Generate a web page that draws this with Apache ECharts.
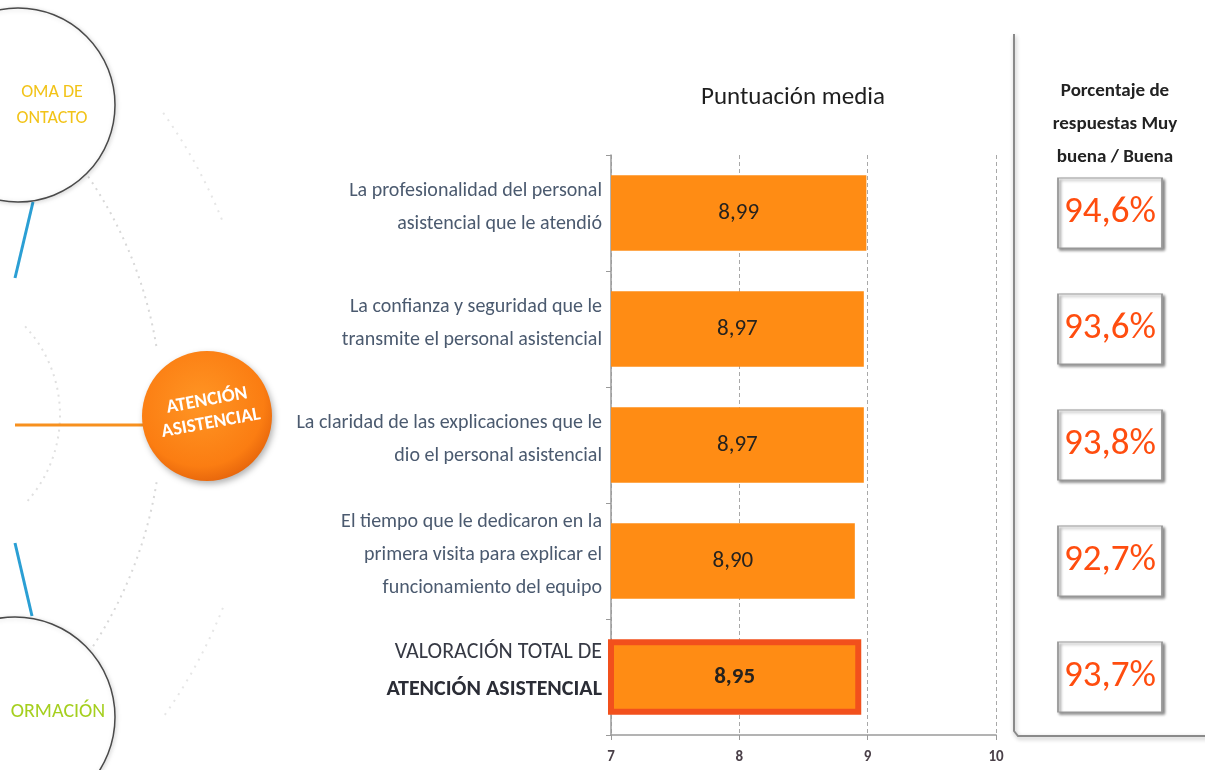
<!DOCTYPE html>
<html>
<head>
<meta charset="utf-8">
<script src="https://cdn.jsdelivr.net/npm/echarts@6/dist/echarts.min.js"></script>
<style>
  html, body { margin: 0; padding: 0; background: #fff; }
  #chart { width: 1205px; height: 770px; }
</style>
</head>
<body>
<div id="chart"></div>
<script>
var FONT = 'Carlito, Lato, "DejaVu Sans Condensed", sans-serif';

var categories = [
   'La profesionalidad del personal\nasistencial que le atendió',
   'La confianza y seguridad que le\ntransmite el personal asistencial',
   'La claridad de las explicaciones que le\ndio el personal asistencial',
   'El tiempo que le dedicaron en la\nprimera visita para explicar el\nfuncionamiento del equipo',
   'VALORACIÓN TOTAL DE\nATENCIÓN ASISTENCIAL'
];
var scores = [8.99, 8.97, 8.97, 8.90, 8.95];
var percents = [94.6, 93.6, 93.8, 92.7, 93.7];
var xTicks = [7, 8, 9, 10];

var fmtComma = function(v, d) {
   return v.toFixed(d).replace('.', ',');
};

var lastIdx = categories.length - 1;

var barData = scores.map(function(v, i) {
   if(i == lastIdx) {
      return {
         value: v,
         itemStyle: { borderColor: '#f2501c', borderWidth: 6 },
         label: { fontWeight: 'bold' }
      };
   }
   return v;
});

var boxData = percents.map(function(p, i) {
   return [0, categories[i], p];
});

var chart = echarts.init(document.getElementById('chart'));

var option = {
   animation: false,
   title: [{
      text: 'Puntuación media',
      left: 788,
      top: 80,
      textAlign: 'center',
      textStyle: { fontFamily: FONT, fontSize: 25, fontWeight: 'normal', color: '#1e1e1e' }
   }, {
      text: 'Porcentaje de\nrespuestas Muy\nbuena / Buena',
      left: 1110,
      top: 70,
      textAlign: 'center',
      textStyle: { fontFamily: FONT, fontSize: 19, fontWeight: 'bold', color: '#222', lineHeight: 33 }
   }],
   grid: [
      { left: 611, right: 209, top: 155, bottom: 35 },
      { left: 1040, right: 25, top: 155, bottom: 35 }
   ],
   xAxis: [{
      gridIndex: 0,
      type: 'value',
      min: xTicks[0],
      max: xTicks[xTicks.length - 1],
      interval: 1,
      axisLine: { show: true, lineStyle: { color: '#9a9a9a', width: 1.5 } },
      axisTick: { show: true, length: 5, lineStyle: { color: '#9a9a9a' } },
      axisLabel: {
         fontFamily: FONT, fontSize: 15, fontWeight: 'bold', color: '#4a4048', margin: 15
      },
      splitLine: { show: true, lineStyle: { color: '#a8a8a8', type: [4, 3], width: 1 } }
   }, {
      gridIndex: 1,
      type: 'value',
      min: -1,
      max: 1,
      show: false
   }],
   yAxis: [{
      gridIndex: 0,
      type: 'category',
      inverse: true,
      data: categories,
      axisLine: { show: true, lineStyle: { color: '#9a9a9a', width: 1.5 } },
      axisTick: { show: true, length: 5, lineStyle: { color: '#9a9a9a' } },
      axisLabel: {
         margin: 9,
         align: 'right',
         padding: [0, 0, 12, 0],
         formatter: function(val, idx) {
            if(idx == lastIdx) {
               var parts = val.split('\n');
               return '{n|' + parts[0] + '}\n{b|' + parts[1] + '}';
            }
            return val.split('\n').map(function(s) { return '{a|' + s + '}'; }).join('\n');
         },
         rich: {
            a: { fontFamily: FONT, fontSize: 20, color: '#4b5a6f', lineHeight: 33, align: 'right' },
            n: { fontFamily: FONT, fontSize: 22, color: '#363944', lineHeight: 37, align: 'right' },
            b: { fontFamily: FONT, fontSize: 22, fontWeight: 'bold', color: '#2b2d36', lineHeight: 37, align: 'right' }
         }
      }
   }, {
      gridIndex: 1,
      type: 'category',
      inverse: true,
      data: categories,
      show: false
   }],
   series: [{
      type: 'bar',
      xAxisIndex: 0,
      yAxisIndex: 0,
      data: barData,
      barCategoryGap: '35%',
      itemStyle: { color: '#ff8c14' },
      label: {
         show: true,
         position: 'inside',
         fontFamily: FONT,
         fontSize: 23,
         color: '#26221e',
         formatter: function(p) { return fmtComma(p.value, 2); }
      },
      z: 3
   }, {
      type: 'scatter',
      xAxisIndex: 1,
      yAxisIndex: 1,
      data: boxData,
      symbol: 'rect',
      symbolSize: [104, 70],
      itemStyle: {
         color: '#ffffff',
         opacity: 1,
         borderColor: '#9a9a9a',
         borderWidth: 1.5,
         shadowColor: 'rgba(0,0,0,0.45)',
         shadowBlur: 3,
         shadowOffsetX: 2,
         shadowOffsetY: 2
      },
      emphasis: { disabled: true },
      label: {
         show: true,
         position: 'inside',
         fontFamily: FONT,
         fontSize: 37,
         color: '#ff4d0f',
         formatter: function(p) { return fmtComma(p.value[2], 1) + '%'; }
      }
   }],
   graphic: [
      // right panel frame
      {
         type: 'polyline',
         shape: { points: [[1014, 34], [1014, 731], [1018, 736], [1210, 736]] },
         style: {
            stroke: '#8a8a8a', lineWidth: 2, fill: null,
            shadowColor: 'rgba(0,0,0,0.3)', shadowBlur: 4, shadowOffsetX: 1, shadowOffsetY: 2
         },
         z: 1
      },
      // dotted arcs
      {
         type: 'arc',
         shape: { cx: -260, cy: 415, r: 422, startAngle: -0.70, endAngle: -0.16 },
         style: { stroke: '#d8d8d8', lineWidth: 2, lineDash: [2, 5], fill: null },
         z: 0
      },
      {
         type: 'arc',
         shape: { cx: -260, cy: 415, r: 422, startAngle: 0.16, endAngle: 0.70 },
         style: { stroke: '#d8d8d8', lineWidth: 2, lineDash: [2, 5], fill: null },
         z: 0
      },
      {
         type: 'arc',
         shape: { cx: -260, cy: 415, r: 520, startAngle: -0.62, endAngle: -0.38 },
         style: { stroke: '#e6e6e6', lineWidth: 2, lineDash: [2, 6], fill: null },
         z: 0
      },
      {
         type: 'arc',
         shape: { cx: -260, cy: 415, r: 520, startAngle: 0.38, endAngle: 0.62 },
         style: { stroke: '#e6e6e6', lineWidth: 2, lineDash: [2, 6], fill: null },
         z: 0
      },
      {
         type: 'arc',
         shape: { cx: -70, cy: 415, r: 130, startAngle: -0.75, endAngle: 0.75 },
         style: { stroke: '#e0e0e0', lineWidth: 2, lineDash: [2, 5], fill: null },
         z: 0
      },
      // blue connectors
      {
         type: 'line',
         shape: { x1: 33, y1: 202, x2: 15, y2: 278 },
         style: { stroke: '#2b9fd4', lineWidth: 3 }
      },
      {
         type: 'line',
         shape: { x1: 15, y1: 543, x2: 32, y2: 616 },
         style: { stroke: '#2b9fd4', lineWidth: 3 }
      },
      // top circle
      {
         type: 'circle',
         shape: { cx: 18, cy: 105, r: 97 },
         style: {
            fill: '#ffffff', stroke: '#4a4a4a', lineWidth: 1.5,
            shadowColor: 'rgba(0,0,0,0.15)', shadowBlur: 5, shadowOffsetX: 1, shadowOffsetY: 1
         },
         z: 2
      },
      {
         type: 'text',
         style: {
            text: 'OMA DE\nONTACTO', x: 52, y: 105, align: 'center', verticalAlign: 'middle',
            fontFamily: FONT, fontSize: 18, fill: '#f2c318', lineHeight: 26
         },
         z: 3
      },
      // bottom circle
      {
         type: 'circle',
         shape: { cx: 15, cy: 717, r: 100 },
         style: {
            fill: '#ffffff', stroke: '#4a4a4a', lineWidth: 1.5,
            shadowColor: 'rgba(0,0,0,0.15)', shadowBlur: 5, shadowOffsetX: 1, shadowOffsetY: 1
         },
         z: 2
      },
      {
         type: 'text',
         style: {
            text: 'ORMACIÓN', x: 58, y: 712, align: 'center', verticalAlign: 'middle',
            fontFamily: FONT, fontSize: 20, fill: '#a5cf1e'
         },
         z: 3
      },
      // orange connector and circle
      {
         type: 'line',
         shape: { x1: 15, y1: 425, x2: 150, y2: 425 },
         style: { stroke: '#f7901e', lineWidth: 3 }
      },
      {
         type: 'circle',
         shape: { cx: 207, cy: 416, r: 65 },
         style: {
            fill: {
               type: 'radial', x: 0.45, y: 0.4, r: 0.65,
               colorStops: [
                  { offset: 0, color: '#ff9524' },
                  { offset: 0.75, color: '#fb7d12' },
                  { offset: 1, color: '#e2600a' }
               ]
            },
            shadowColor: 'rgba(0,0,0,0.3)', shadowBlur: 6, shadowOffsetX: 2, shadowOffsetY: 3
         },
         z: 2
      },
      {
         type: 'text',
         x: 209,
         y: 412,
         rotation: 0.18,
         style: {
            text: 'ATENCIÓN\nASISTENCIAL', x: 0, y: 0, align: 'center', verticalAlign: 'middle',
            fontFamily: FONT, fontSize: 19, fontWeight: 'bold', fill: '#ffffff', lineHeight: 23
         },
         z: 3
      }
   ]
};

chart.setOption(option);
</script>
</body>
</html>
